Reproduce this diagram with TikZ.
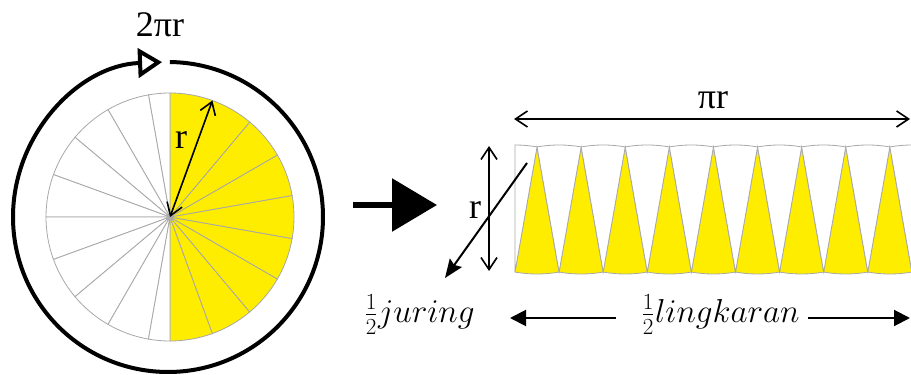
\documentclass[tikz,border=0pt]{standalone}
\usepackage{fontspec}
\setmainfont{Liberation Serif}
\usepackage{amsmath}
\usetikzlibrary{calc,arrows.meta,positioning}
\definecolor{sliceyel}{HTML}{FFED00}
\definecolor{slicegray}{HTML}{A8A8A8}
\tikzset{
  yel/.style={fill=sliceyel,draw=slicegray,line width=0.6pt},
  wht/.style={fill=white,draw=slicegray,line width=0.6pt},
  dimar/.style={{Straight Barb[length=9pt,width=12pt]}-{Straight Barb[length=9pt,width=12pt]},line width=1.2pt},
  ring/.style={-{Triangle[open,length=18pt,width=22pt]},line width=3pt},
  bigar/.style={-{Triangle[length=33.75pt,width=39pt]},line width=4.5pt},
  ptr/.style={-{Stealth[length=14pt,width=11pt,inset=2pt]},line width=1.5pt},
  flat/.style={-{Triangle[length=12pt,width=12pt]},line width=1.5pt},
  lbl/.style={font=\fontsize{27}{30}\selectfont,inner sep=0pt},
  mlbl/.style={font=\fontsize{24}{28}\selectfont,inner sep=0pt,anchor=base west}
}
\begin{document}
\begin{tikzpicture}[x=0.75pt,y=0.75pt]
\useasboundingbox (0,0) rectangle (911,375);
\def\R{124}
\coordinate (C) at (170,158);
% disc: right half yellow, left half white
\foreach \a in {-90,-70,...,70}{\filldraw[yel] (C)--($(C)+(\a:\R)$) arc[start angle=\a,delta angle=20,radius=93pt]--cycle;}
\filldraw[wht] (C)--($(C)+(90:\R)$) arc[start angle=90,end angle=100,radius=93pt]--cycle;
\foreach \a in {100,120,...,240}{\filldraw[wht] (C)--($(C)+(\a:\R)$) arc[start angle=\a,delta angle=20,radius=93pt]--cycle;}
\filldraw[wht] (C)--($(C)+(260:\R)$) arc[start angle=260,end angle=270,radius=93pt]--cycle;
\coordinate (O) at (168,158);
\draw[ring] ($(O)+(89.3:155)$) arc[start angle=89.3,end angle=-267.8,radius=116.25pt];
\coordinate (rim) at ($(C)+(70:\R)$);
\draw[dimar] (C)--(rim);
\node[lbl] (rdisc) at (181,235) {r};
\node[lbl] (circum) at (160,350) {2πr};
% big arrow
\coordinate (ba) at (353,170); \coordinate (bb) at (437,170);
\draw[bigar] (ba)--(bb);
% strip of sectors
\def\Yt{228} \def\Yb{103}
\foreach \k in {0,...,8}{\filldraw[yel] (537+44.1*\k,\Yt) -- ++(260:127) arc[start angle=260,end angle=280,radius=95.25pt] -- cycle;}
\foreach \j in {1,...,8}{\filldraw[wht] (515+44.1*\j,\Yb) -- ++(80:127) arc[start angle=80,end angle=100,radius=95.25pt] -- cycle;}
\filldraw[wht] (515,\Yb) -- ++(80:127) arc[start angle=80,end angle=90,radius=95.25pt] -- cycle;
\filldraw[wht] (515+44.1*9,\Yb) -- ++(90:127) arc[start angle=90,end angle=100,radius=95.25pt] -- cycle;
\coordinate (pl) at (514,256); \coordinate (pr) at (910,256);
\draw[dimar] (pl)--(pr);
\node[lbl] (pir) at (713,275) {πr};
\coordinate (rt) at (489,229); \coordinate (rb) at (489,104);
\draw[dimar] (rt)--(rb);
\node[lbl] (rstrip) at (475,165) {r};
% halves
\node[mlbl] (jur) at (364,52) {$\frac{1}{2}juring$};
\node[mlbl] (lingk) at (641,52) {$\frac{1}{2}lingkaran$};
\coordinate (dg) at (527,212); \coordinate (dgtip) at (445,97);
\draw[ptr] (dg)--(dgtip);
\coordinate (jtip) at (510,57); \coordinate (ltip) at (910,57);
\draw[flat] ([xshift=-19pt]lingk.west |- jtip)--(jtip);
\draw[flat] ([xshift=6pt]lingk.east |- ltip)--(ltip);
\end{tikzpicture}
\end{document}
